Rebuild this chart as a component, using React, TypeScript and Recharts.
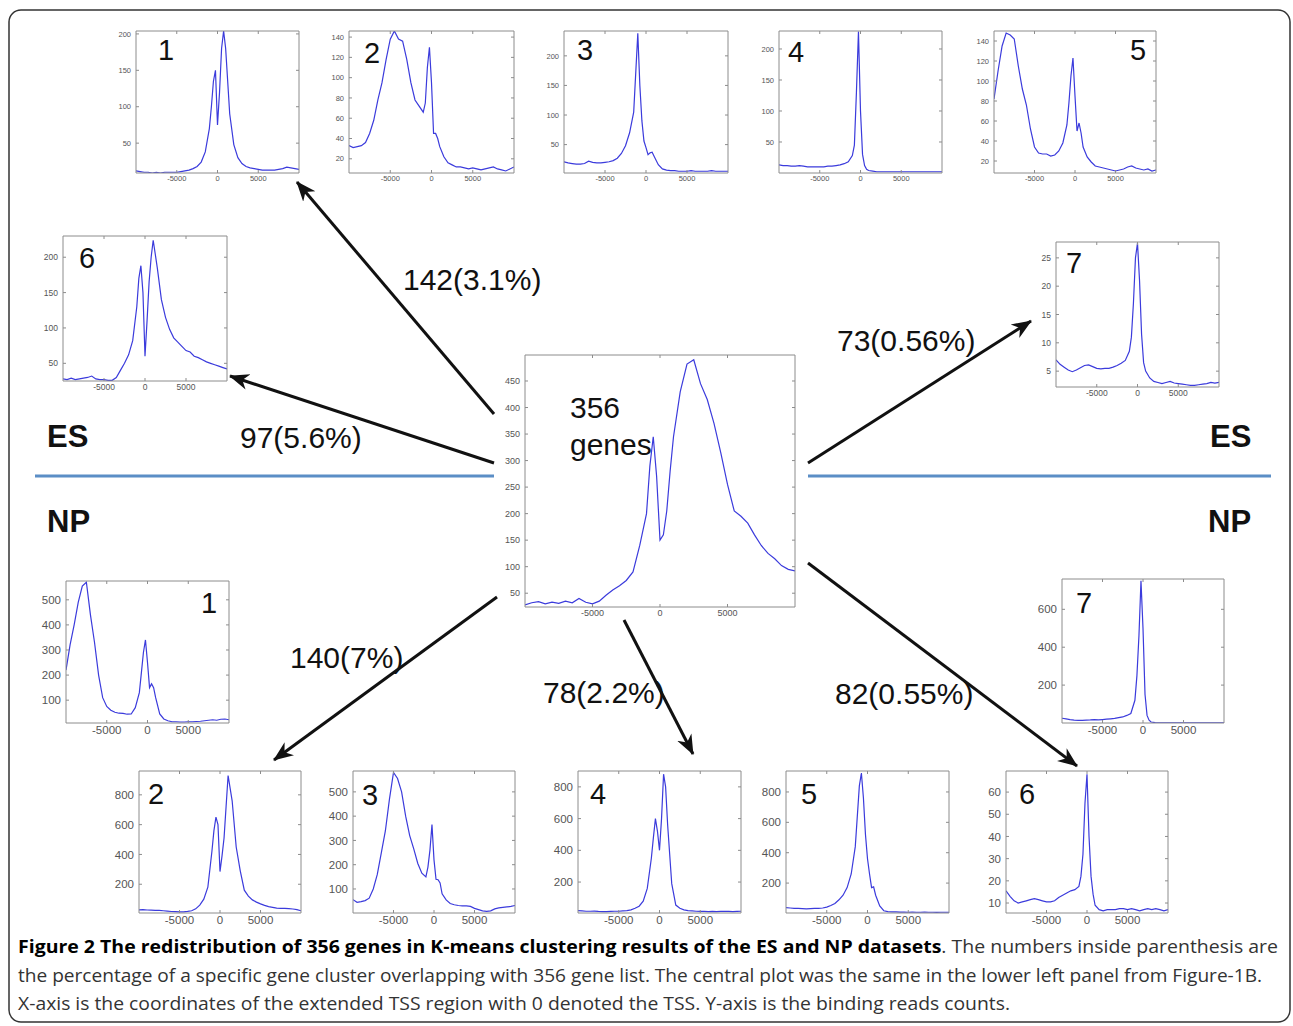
import React from "react";
import { LineChart, Line, XAxis, YAxis } from "recharts";

// positions around the TSS (bp), shared by every profile
const tss = [
  -10000, -9500, -9000, -8500, -8000, -7500, -7000, -6500, -6000, -5500, -5000, -4500, -4000, -3500, -3000, -2500,
  -2000, -1500, -1000, -750, -500, -250, 0, 250, 500, 750, 1000, 1500, 2000, 2500, 3000, 3500, 4000, 4500, 5000,
  5500, 6000, 6500, 7000, 7500, 8000, 8500, 9000, 9500, 10000,
];
const xTicks = [-5000, 0, 5000];

// ES clusters
const es1 = [12, 11, 10, 10, 9, 10, 9, 10, 10, 10, 10, 11, 12, 13, 15, 18, 24, 38, 70, 100, 135, 150, 75, 120, 180, 204, 180, 90, 48, 30, 22, 18, 16, 15, 14, 13, 13, 13, 13, 14, 15, 17, 16, 15, 14];
const es2 = [33, 31, 32, 33, 36, 45, 58, 78, 95, 118, 138, 146, 138, 136, 118, 95, 78, 72, 66, 75, 110, 130, 95, 45, 45, 40, 32, 22, 16, 14, 12, 12, 11, 10, 11, 10, 9, 10, 11, 12, 10, 9, 8, 10, 12];
const es3 = [21, 19, 18, 17, 17, 18, 22, 20, 19, 19, 20, 21, 23, 27, 35, 48, 70, 105, 238, 150, 90, 56, 45, 33, 36, 37, 30, 16, 9, 7, 6, 6, 5, 5, 5, 6, 5, 5, 5, 5, 6, 5, 5, 5, 5];
const es4 = [13, 12, 12, 11, 11, 12, 11, 10, 10, 10, 10, 10, 11, 11, 12, 13, 15, 18, 28, 45, 130, 228, 100, 30, 12, 6, 4, 3, 2, 2, 2, 2, 2, 2, 2, 2, 2, 2, 2, 2, 2, 2, 2, 2, 2];
const es5 = [82, 110, 135, 148, 146, 142, 115, 92, 76, 52, 34, 28, 27, 27, 25, 26, 30, 38, 56, 78, 105, 123, 85, 50, 58, 48, 34, 24, 19, 15, 14, 13, 12, 11, 10, 11, 12, 14, 15, 13, 12, 11, 12, 10, 11];
const es6 = [28, 27, 29, 27, 28, 29, 30, 32, 28, 27, 27, 26, 26, 30, 40, 50, 62, 82, 130, 170, 188, 150, 60, 110, 165, 200, 224, 185, 140, 115, 98, 86, 80, 74, 68, 66, 60, 58, 55, 52, 50, 48, 46, 44, 42];
const es7 = [7, 6.2, 5.7, 5.2, 4.9, 5.2, 5.6, 6, 6.1, 5.8, 5.5, 5.4, 5.5, 5.5, 5.7, 6, 6.4, 6.9, 8.5, 11, 17, 25, 27.6, 21, 11.5, 6.5, 5, 3.8, 3.2, 3, 2.8, 3, 3.2, 2.9, 2.8, 2.7, 2.6, 2.5, 2.5, 2.6, 2.7, 2.8, 3, 2.9, 3];

// the 356 genes
const genes356 = [28, 32, 34, 30, 33, 31, 35, 32, 40, 33, 30, 35, 46, 56, 64, 74, 90, 140, 200, 290, 345, 270, 150, 160, 205, 280, 345, 430, 482, 490, 445, 415, 370, 315, 255, 205, 195, 182, 160, 140, 125, 115, 102, 95, 92];

// NP clusters
const np1 = [220, 320, 400, 490, 555, 570, 440, 330, 200, 110, 75, 60, 52, 48, 47, 44, 45, 70, 130, 210, 290, 340, 250, 150, 165, 150, 110, 45, 25, 18, 14, 14, 13, 13, 14, 14, 15, 16, 18, 20, 22, 20, 24, 25, 22];
const np2 = [28, 30, 27, 26, 25, 24, 22, 20, 17, 16, 15, 15, 18, 22, 35, 60, 100, 180, 420, 560, 650, 600, 285, 390, 510, 720, 930, 760, 450, 290, 160, 120, 95, 80, 68, 58, 50, 45, 40, 38, 38, 36, 34, 30, 22];
const np3 = [56, 45, 48, 52, 62, 100, 160, 250, 340, 470, 580, 555, 500, 400, 320, 265, 205, 165, 150, 190, 260, 365, 220, 140, 138, 125, 80, 55, 40, 35, 32, 30, 30, 28, 20, 15, 10, 8, 10, 18, 22, 24, 26, 28, 32];
const np4 = [20, 18, 16, 16, 17, 15, 14, 14, 15, 16, 16, 18, 20, 25, 35, 48, 80, 160, 350, 480, 600, 520, 400, 600, 880, 800, 560, 190, 55, 35, 25, 20, 18, 16, 15, 15, 14, 15, 14, 15, 16, 15, 14, 15, 16];
const np5 = [38, 36, 34, 33, 32, 30, 32, 34, 33, 36, 42, 52, 66, 90, 120, 170, 260, 440, 840, 925, 760, 520, 360, 260, 170, 175, 120, 50, 18, 12, 10, 10, 9, 9, 8, 9, 8, 8, 9, 8, 8, 7, 8, 8, 8];
const np6 = [15.5, 13, 11, 10, 10.5, 11, 11.5, 12, 11.5, 11, 10.5, 10.5, 11, 12.5, 13.5, 14.5, 15.5, 16, 17.5, 22, 32, 55, 68, 40, 22, 14, 9, 7, 6.5, 7, 7, 7, 7.5, 7.5, 7, 7.5, 7, 6.5, 7, 7.5, 7, 7.5, 7, 6.5, 7];
const np7 = [25, 22, 18, 15, 14, 14, 15, 16, 18, 16, 18, 20, 22, 24, 28, 32, 40, 50, 120, 250, 460, 750, 500, 150, 40, 15, 5, 2, 1, 1, 1, 1, 1, 1, 1, 1, 1, 1, 1, 1, 1, 1, 1, 1, 1];

// y tick labels
const ticks50 = [50, 100, 150, 200];
const ticks20 = [20, 40, 60, 80, 100, 120, 140];
const ticks5 = [5, 10, 15, 20, 25];
const ticksCentral = [50, 100, 150, 200, 250, 300, 350, 400, 450];
const ticks100 = [100, 200, 300, 400, 500];
const ticks200 = [200, 400, 600];
const ticks200b = [200, 400, 600, 800];
const ticks10 = [10, 20, 30, 40, 50, 60];

type Panel = {
  values: number[];
  box: [number, number, number, number];
  domain: [number, number];
  yTicks: number[];
  font: number;
  label: string;
  lx: number;
  ly: number;
};

const panels: Panel[] = [
  { values: es1, box: [136, 31, 163, 142], domain: [9, 204], yTicks: ticks50, font: 7.5, label: "1", lx: 158, ly: 60 },
  { values: es2, box: [349, 31, 165, 142], domain: [6, 146], yTicks: ticks20, font: 7.5, label: "2", lx: 364, ly: 63 },
  { values: es3, box: [564, 31, 164, 142], domain: [2, 242], yTicks: ticks50, font: 7.5, label: "3", lx: 577, ly: 60 },
  { values: es4, box: [779, 31, 163, 142], domain: [0, 229], yTicks: ticks50, font: 7.5, label: "4", lx: 788, ly: 62 },
  { values: es5, box: [994, 31, 162, 142], domain: [8, 150], yTicks: ticks20, font: 7.5, label: "5", lx: 1130, ly: 60 },
  { values: es6, box: [63, 236, 164, 145], domain: [25, 230], yTicks: ticks50, font: 8.5, label: "6", lx: 79, ly: 268 },
  { values: es7, box: [1056, 242, 163, 145], domain: [2.2, 27.8], yTicks: ticks5, font: 8.5, label: "7", lx: 1066, ly: 273 },
  { values: genes356, box: [525, 355, 270, 252], domain: [24, 499], yTicks: ticksCentral, font: 9, label: "", lx: 0, ly: 0 },
  { values: np1, box: [66, 581, 163, 142], domain: [9, 575], yTicks: ticks100, font: 11.5, label: "1", lx: 201, ly: 613 },
  { values: np7, box: [1062, 579, 162, 144], domain: [0, 760], yTicks: ticks200, font: 11.5, label: "7", lx: 1076, ly: 613 },
  { values: np2, box: [139, 771, 162, 142], domain: [7, 960], yTicks: ticks200b, font: 11.5, label: "2", lx: 148, ly: 804 },
  { values: np3, box: [353, 771, 162, 142], domain: [1, 586], yTicks: ticks100, font: 11.5, label: "3", lx: 362, ly: 805 },
  { values: np4, box: [578, 771, 163, 142], domain: [5, 900], yTicks: ticks200b, font: 11.5, label: "4", lx: 590, ly: 804 },
  { values: np5, box: [786, 771, 163, 142], domain: [3, 938], yTicks: ticks200b, font: 11.5, label: "5", lx: 801, ly: 804 },
  { values: np6, box: [1006, 771, 162, 142], domain: [5.5, 69.5], yTicks: ticks10, font: 11.5, label: "6", lx: 1019, ly: 804 },
];

const FONT = "'Liberation Sans', Arial, Helvetica, sans-serif";
const FRAME = "#8c8c8c";

const Profile: React.FC<{ p: Panel }> = ({ p }) => {
  const [x, y, w, h] = p.box;
  const yw = 40;
  const xh = 24;
  const data = tss.map((pos, i) => ({ pos, reads: p.values[i] }));
  const tickStyle = { fontSize: p.font, fill: "#555", fontFamily: FONT };
  const blank = () => "";
  // top / right axes only close the MATLAB-style box (ticks pointing inward)
  return (
    <div style={{ position: "absolute", left: x - yw, top: y - 1 }}>
      <LineChart width={w + yw + 1} height={h + 1 + xh} data={data} margin={{ top: 0, right: 0, bottom: 0, left: 0 }}>
        <XAxis xAxisId="b" dataKey="pos" type="number" domain={[-10000, 10000]} ticks={xTicks} interval={0}
          allowDataOverflow height={xh} stroke={FRAME} tickSize={-3} tickMargin={6} tick={tickStyle} />
        <XAxis xAxisId="t" dataKey="pos" orientation="top" type="number" domain={[-10000, 10000]} ticks={xTicks}
          interval={0} allowDataOverflow height={1} stroke={FRAME} tickSize={-3} tickFormatter={blank} />
        <YAxis yAxisId="l" type="number" domain={p.domain} ticks={p.yTicks} interval={0} allowDataOverflow
          width={yw} stroke={FRAME} tickSize={-3} tickMargin={8} tick={tickStyle} />
        <YAxis yAxisId="r" orientation="right" type="number" domain={p.domain} ticks={p.yTicks} interval={0}
          allowDataOverflow width={1} stroke={FRAME} tickSize={-3} tickFormatter={blank} />
        <Line xAxisId="b" yAxisId="l" dataKey="reads" type="linear" stroke="#3b3bdc" strokeWidth={1.2}
          dot={false} isAnimationActive={false} />
      </LineChart>
    </div>
  );
};

const arrows = [
  [494, 414, 297, 182],
  [494, 463, 230, 376],
  [808, 463, 1031, 321],
  [497, 597, 274, 760],
  [624, 620, 693, 754],
  [808, 563, 1077, 766],
];

const counts = [
  { text: "142(3.1%)", x: 403, y: 290 },
  { text: "97(5.6%)", x: 240, y: 448 },
  { text: "73(0.56%)", x: 837, y: 351 },
  { text: "140(7%)", x: 290, y: 668 },
  { text: "78(2.2%)", x: 543, y: 703 },
  { text: "82(0.55%)", x: 835, y: 704 },
];

const App: React.FC = () => (
  <div style={{ position: "absolute", left: 0, top: 0, width: 1293, height: 1026, background: "#fff", fontFamily: FONT }}>
    {panels.map((p, i) => (
      <Profile key={i} p={p} />
    ))}
    <svg width={1293} height={1026} style={{ position: "absolute", left: 0, top: 0, pointerEvents: "none" }}>
      <defs>
        <marker id="head" markerUnits="userSpaceOnUse" markerWidth={20} markerHeight={18} refX={19} refY={9} orient="auto">
          <path d="M0,1 L20,9 L0,17 L6,9 z" fill="#111" />
        </marker>
      </defs>
      <rect x={9} y={10} width={1281} height={1012} rx={12} fill="none" stroke="#333" strokeWidth={1.5} />
      <line x1={35} y1={476} x2={494} y2={476} stroke="#5b8ec6" strokeWidth={3} />
      <line x1={808} y1={476} x2={1271} y2={476} stroke="#5b8ec6" strokeWidth={3} />
      {arrows.map(([x1, y1, x2, y2], i) => (
        <line key={i} x1={x1} y1={y1} x2={x2} y2={y2} stroke="#111" strokeWidth={3} markerEnd="url(#head)" />
      ))}
      <g fontFamily={FONT} fill="#111">
        {panels.filter((p) => p.label).map((p, i) => (
          <text key={i} x={p.lx} y={p.ly} fontSize={29}>{p.label}</text>
        ))}
        <text x={570} y={418} fontSize={30}>356</text>
        <text x={570} y={455} fontSize={30}>genes</text>
        {counts.map((c) => (
          <text key={c.text} x={c.x} y={c.y} fontSize={30}>{c.text}</text>
        ))}
        <text x={47} y={447} fontSize={31} fontWeight="bold">ES</text>
        <text x={1210} y={447} fontSize={31} fontWeight="bold">ES</text>
        <text x={47} y={532} fontSize={31} fontWeight="bold">NP</text>
        <text x={1208} y={532} fontSize={31} fontWeight="bold">NP</text>
      </g>
      <g fontFamily="'Open Sans', 'Noto Sans', sans-serif" fontSize={18} fill="#333">
        <text x={18} y={953} textLength={1260} lengthAdjust="spacingAndGlyphs">
          <tspan fontWeight="bold" fill="#000">
            Figure 2 The redistribution of 356 genes in K-means clustering results of the ES and NP datasets
          </tspan>
          . The numbers inside parenthesis are
        </text>
        <text x={18} y={982} textLength={1244} lengthAdjust="spacingAndGlyphs">
          the percentage of a specific gene cluster overlapping with 356 gene list. The central plot was the same in the lower left panel from Figure-1B.
        </text>
        <text x={18} y={1010} textLength={992} lengthAdjust="spacingAndGlyphs">
          X-axis is the coordinates of the extended TSS region with 0 denoted the TSS. Y-axis is the binding reads counts.
        </text>
      </g>
    </svg>
  </div>
);

export default App;
